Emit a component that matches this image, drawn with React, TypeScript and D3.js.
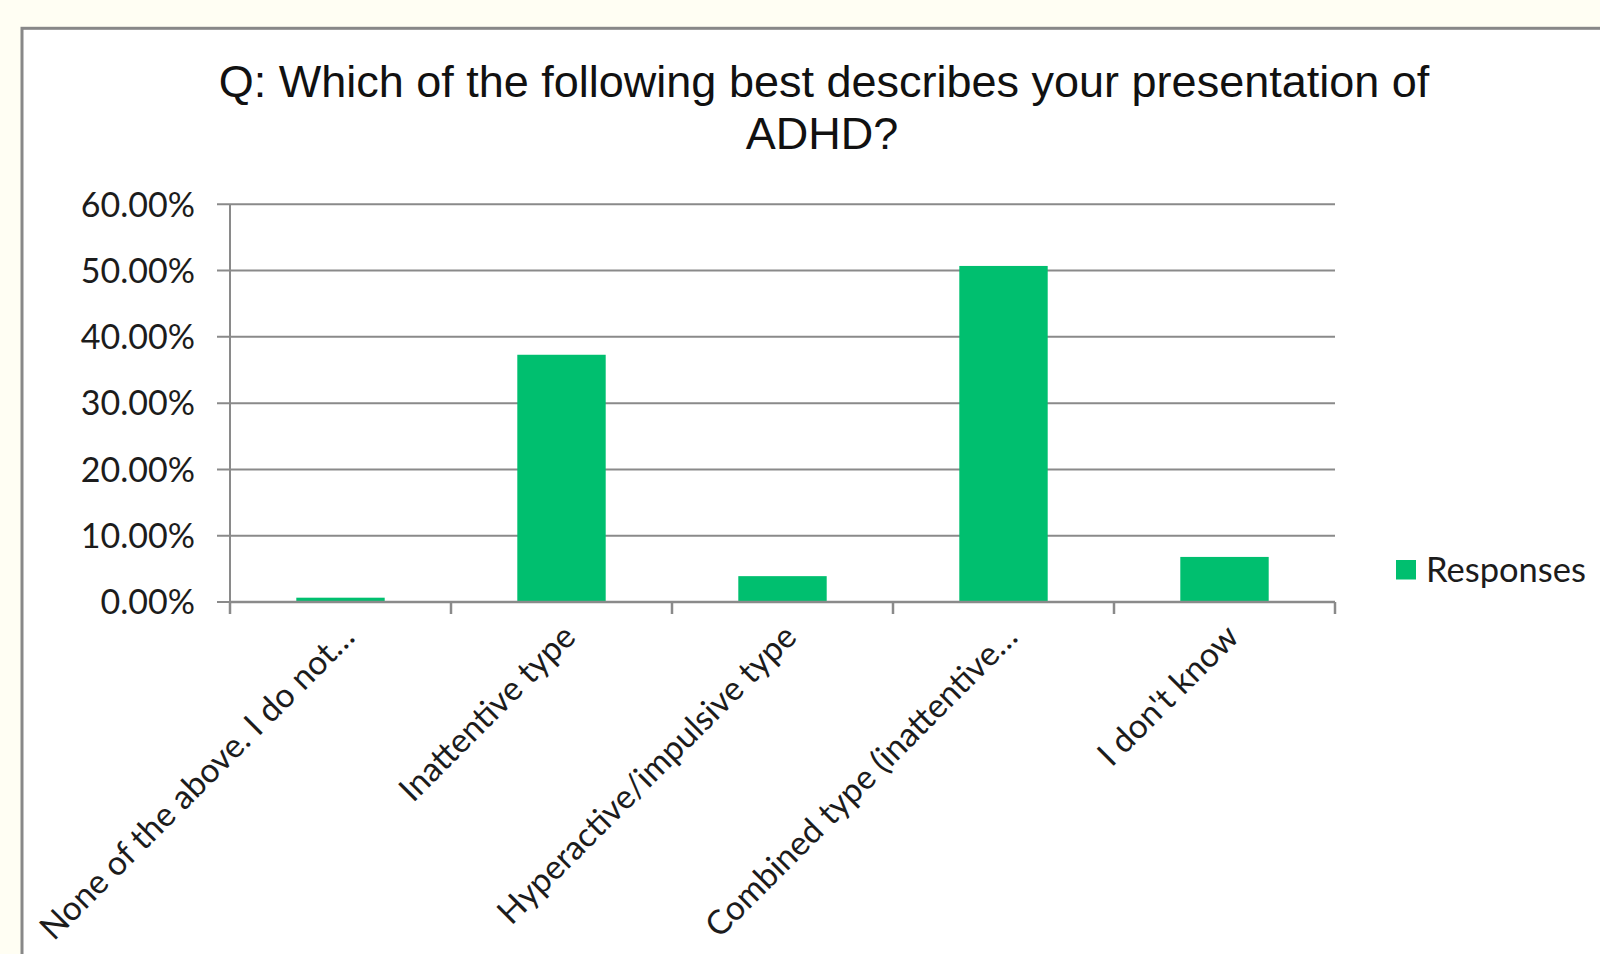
import React from "react";
import * as d3 from "d3";

// Survey responses: share of respondents per ADHD presentation
const categories: string[] = [
  "None of the above. I do not…",
  "Inattentive type",
  "Hyperactive/impulsive type",
  "Combined type (inattentive…",
  "I don't know",
];
const responses: number[] = [0.0065, 0.373, 0.039, 0.507, 0.068];
const yTicks: number[] = [0, 0.1, 0.2, 0.3, 0.4, 0.5, 0.6];
const titleLines: string[] = [
  "Q: Which of the following best describes your presentation of",
  "ADHD?",
];
const seriesName = "Responses";

const W = 1600;
const H = 954;
const GREEN = "#00BF6F";
const GRID = "#8a8a8a";
const LABEL_FONT = "Lato, 'Open Sans', sans-serif";

export default function App() {
  const x = d3
    .scaleBand<string>()
    .domain(categories)
    .range([230, 1335])
    .paddingInner(0.6)
    .paddingOuter(0.3);
  const y = d3.scaleLinear().domain([0, 0.6]).range([602, 204.3]);
  const fmt = d3.format(".2%");
  const step = x.step();
  const left = 230;
  const right = 1335;
  const boundaries = d3.range(categories.length + 1).map((i) => left + i * step);

  return (
    <svg
      width={W}
      height={H}
      style={{ position: "absolute", left: 0, top: 0, display: "block" }}
    >
      <rect x={0} y={0} width={W} height={H} fill="#FFFEF3" />
      <rect
        x={22}
        y={28.3}
        width={1650}
        height={1000}
        fill="#ffffff"
        stroke="#888888"
        strokeWidth={3}
      />

      {/* title */}
      <g fontFamily="'Liberation Sans', Arial, sans-serif" fontSize={45} fill="#111">
        <text x={824} y={96.7} textAnchor="middle">
          {titleLines[0]}
        </text>
        <text x={822} y={148.5} textAnchor="middle">
          {titleLines[1]}
        </text>
      </g>

      {/* gridlines and value axis */}
      <g stroke={GRID} strokeWidth={2}>
        {yTicks.map((t) => (
          <line key={t} x1={217} x2={right} y1={y(t)} y2={y(t)} />
        ))}
        <line x1={left} x2={left} y1={y(0.6)} y2={y(0) + 12} />
      </g>
      <g fontFamily={LABEL_FONT} fontSize={34} fill="#1c1c1c">
        {yTicks.map((t) => (
          <text key={t} x={195} y={y(t)} dy="0.36em" textAnchor="end">
            {fmt(t)}
          </text>
        ))}
      </g>

      {/* bars */}
      {categories.map((c, i) => (
        <rect
          key={c}
          x={x(c)!}
          y={y(responses[i])}
          width={x.bandwidth()}
          height={y(0) - y(responses[i])}
          fill={GREEN}
        />
      ))}

      {/* category axis */}
      <g stroke={GRID} strokeWidth={2.5}>
        <line x1={left} x2={right} y1={y(0)} y2={y(0)} />
        {boundaries.map((bx, i) => (
          <line key={i} x1={bx} x2={bx} y1={y(0)} y2={y(0) + 12} />
        ))}
      </g>
      <g fontFamily={LABEL_FONT} fontSize={33.5} fill="#1c1c1c">
        {categories.map((c) => {
          const cx = x(c)! + x.bandwidth() / 2;
          return (
            <text
              key={c}
              textAnchor="end"
              transform={`translate(${cx + 16},${639}) rotate(-45)`}
            >
              {c}
            </text>
          );
        })}
      </g>

      {/* legend */}
      <rect x={1396} y={560} width={20} height={19.5} fill={GREEN} />
      <text x={1426} y={582} fontFamily={LABEL_FONT} fontSize={34.5} fill="#1c1c1c">
        {seriesName}
      </text>
    </svg>
  );
}
